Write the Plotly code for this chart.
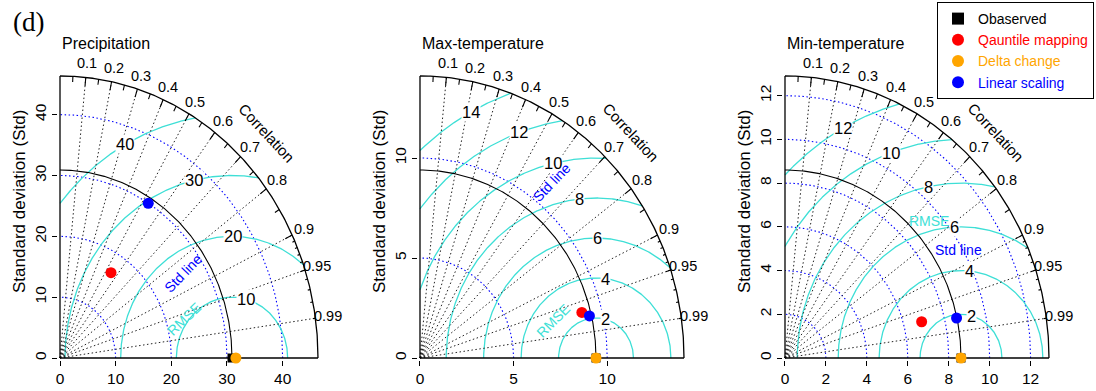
import numpy as np
import plotly.graph_objects as go

# ---------------- data ----------------
panel_titles = ["Precipitation", "Max-temperature", "Min-temperature"]
obs_sd = [30.9, 9.4, 8.6]
qm_sd = [16.75, 8.94, 6.88]
qm_corr = [0.547, 0.967, 0.9705]
dc_sd = [31.6, 9.4, 8.6]
dc_corr = [1.0, 1.0, 1.0]
ls_sd = [29.97, 9.29, 8.58]
ls_corr = [0.529, 0.974, 0.977]
sd_ticks = [[0, 10, 20, 30, 40], [0, 5, 10], [0, 2, 4, 6, 8, 10, 12]]
rmse_levels = [[10, 20, 30, 40], [2, 4, 6, 8, 10, 12, 14], [2, 4, 6, 8, 10, 12]]
corr_lines = [0.1, 0.2, 0.3, 0.4, 0.5, 0.6, 0.7, 0.8, 0.9, 0.95, 0.99]
corr_labels = ["0.1", "0.2", "0.3", "0.4", "0.5", "0.6", "0.7", "0.8", "0.9", "0.95", "0.99"]
big_ticks = [0.1, 0.2, 0.3, 0.4, 0.5, 0.6, 0.7, 0.8, 0.9]
med_ticks = [0.05, 0.15, 0.25, 0.35, 0.45, 0.55, 0.65, 0.75, 0.85, 0.95]
small_ticks = [0.91, 0.92, 0.93, 0.94, 0.95, 0.96, 0.97, 0.98, 0.99]
series_names = ["Obaserved", "Qauntile mapping", "Delta change", "Linear scaling"]
series_colors = ["black", "red", "#FFA500", "blue"]

# ---------------- layout / style ----------------
W, H = 1096, 391
ORIG_X = [60, 420, 785]
ORIG_Y = 358
PW = [258, 264, 264]
PH = 282
XLO, XHI = 0.006, 1.16
YLO, YHI = 0.006, 1.22
FONT = "Arial, Liberation Sans, sans-serif"
TURQ = "#3EDFD6"
# positions of the free text labels (data units of each panel) and rotation
std_text = [(22.2, 13.9, -46), (7.05, 8.8, -46), (8.5, 4.93, 0)]
rmse_text = [(22.3, 6.4, -44), (7.09, 1.87, -45), (7.03, 6.25, 0)]

fig = go.Figure()
annotations = []


def arc(r, t0, t1, n=200):
    t = np.linspace(t0, t1, n)
    return list(r * np.cos(t)), list(r * np.sin(t))


for i in range(3):
    xa = "x" if i == 0 else f"x{i + 1}"
    ya = "y" if i == 0 else f"y{i + 1}"
    r0 = obs_sd[i]
    m = 1.5 * r0

    def add_line(xs, ys, color, width, dash="solid"):
        fig.add_trace(go.Scatter(x=xs, y=ys, mode="lines", xaxis=xa, yaxis=ya,
                                 line=dict(color=color, width=width, dash=dash),
                                 hoverinfo="skip", showlegend=False))

    # std arcs (blue dotted)
    xs, ys = [], []
    for s in sd_ticks[i]:
        if s <= 0:
            continue
        ax_, ay_ = arc(s, 0, np.pi / 2)
        xs += ax_ + [None]
        ys += ay_ + [None]
    add_line(xs, ys, "blue", 1.1, "1.5px,2.5px")

    # RMSE arcs (centred on observed point)
    xs, ys = [], []
    n = len(rmse_levels[i])
    labelpos = np.floor(np.linspace(45, 70, n) + 1e-9).astype(int)
    for k, g in enumerate(rmse_levels[i]):
        c0 = (m * m - r0 * r0 - g * g) / (2 * r0 * g)
        t0 = 0.0 if c0 >= 1 else np.arccos(max(-1.0, c0))
        c1 = -r0 / g
        t1 = np.pi if c1 <= -1 else np.arccos(c1)
        t = np.linspace(t0, t1, 300)
        xs += list(r0 + g * np.cos(t)) + [None]
        ys += list(g * np.sin(t)) + [None]
        ang = (labelpos[k] - 1) * 0.03
        lx, ly = r0 + g * np.cos(ang), g * np.sin(ang)
        if lx > 0:
            annotations.append(dict(x=lx, y=ly, xref=xa, yref=ya, text=str(g),
                                    showarrow=False, bgcolor="white", borderpad=0,
                                    font=dict(size=16.5, color="black", family=FONT)))
    add_line(xs, ys, TURQ, 1.3)

    # correlation rays
    xs, ys = [], []
    for c in corr_lines:
        a = np.arccos(c)
        xs += [0, m * np.cos(a), None]
        ys += [0, m * np.sin(a), None]
    add_line(xs, ys, "#222222", 1.0, "1.5px,2.5px")

    # ticks on outer arc
    xs, ys = [], []
    for lst, f in ((big_ticks, 0.97), (med_ticks, 0.98), (small_ticks, 0.99)):
        for c in lst:
            a = np.arccos(c)
            xs += [m * np.cos(a), f * m * np.cos(a), None]
            ys += [m * np.sin(a), f * m * np.sin(a), None]
    add_line(xs, ys, "black", 1.1)

    # outer arc, observed arc, axes lines
    ox_, oy_ = arc(m, 0, np.pi / 2)
    add_line(ox_, oy_, "black", 1.3)
    bx_, by_ = arc(r0, 0, np.pi / 2)
    add_line(bx_, by_, "black", 1.1)
    add_line([0, m, None, 0, 0], [0, 0, None, 0, m], "black", 1.3)

    # correlation labels
    for c, lab in zip(corr_lines, corr_labels):
        a = np.arccos(c)
        annotations.append(dict(x=1.05 * m * np.cos(a), y=1.05 * m * np.sin(a),
                                xref=xa, yref=ya, text=lab, showarrow=False,
                                font=dict(size=14.5, color="black", family=FONT)))
    annotations.append(dict(x=1.13 * m * np.cos(np.pi / 4), y=1.13 * m * np.sin(np.pi / 4),
                            xref=xa, yref=ya, text="Correlation", showarrow=False,
                            textangle=47, font=dict(size=15, color="black", family=FONT)))
    sx, sy, sa = std_text[i]
    annotations.append(dict(x=sx, y=sy, xref=xa, yref=ya, text="Std line", showarrow=False,
                            textangle=sa, font=dict(size=14, color="blue", family=FONT)))
    rx, ry, ra = rmse_text[i]
    annotations.append(dict(x=rx, y=ry, xref=xa, yref=ya, text="RMSE", showarrow=False,
                            textangle=ra, font=dict(size=14, color=TURQ, family=FONT)))

    # points
    pts = [(r0, 1.0, "square", 9), (qm_sd[i], qm_corr[i], "circle", 11),
           (dc_sd[i], dc_corr[i], "circle", 11), (ls_sd[i], ls_corr[i], "circle", 11)]
    for k, (s, c, sym, sz) in enumerate(pts):
        a = np.arccos(min(c, 1.0))
        fig.add_trace(go.Scatter(
            x=[s * np.cos(a)], y=[s * np.sin(a)], mode="markers", xaxis=xa, yaxis=ya,
            marker=dict(symbol=sym, size=sz, color=series_colors[k], line=dict(width=0)),
            cliponaxis=False, legendgroup=series_names[k], showlegend=(i == 0),
            name=f'<span style="color:{series_colors[k]}">{series_names[k]}</span>'))

    # axes
    ox = ORIG_X[i]
    xdom = [(ox - XLO * PW[i]) / W, (ox + XHI * PW[i]) / W]
    ydom = [(H - (ORIG_Y + YLO * PH)) / H, (H - (ORIG_Y - YHI * PH)) / H]
    common = dict(showgrid=False, zeroline=False, showline=False, ticks="outside",
                  ticklen=5, tickwidth=1, tickcolor="black",
                  tickfont=dict(size=15.5, color="black", family=FONT))
    fig.update_layout(**{
        ("xaxis" if i == 0 else f"xaxis{i + 1}"): dict(
            domain=xdom, range=[-XLO * m, XHI * m], tickvals=sd_ticks[i],
            anchor=ya, **common),
        ("yaxis" if i == 0 else f"yaxis{i + 1}"): dict(
            domain=ydom, range=[-YLO * m, YHI * m], tickvals=sd_ticks[i],
            tickangle=-90, anchor=xa, **common),
    })

    # titles
    annotations.append(dict(x=ox / W, y=1 - 43 / H, xref="paper", yref="paper",
                            text=panel_titles[i], showarrow=False, xanchor="left",
                            yanchor="middle",
                            font=dict(size=16, color="black", family=FONT)))
    annotations.append(dict(x=(ox - 41) / W, y=1 - 202 / H, xref="paper", yref="paper",
                            text="Standard deviation (Std)", showarrow=False, textangle=-90,
                            xanchor="center", yanchor="middle",
                            font=dict(size=17, color="black", family=FONT)))

annotations.append(dict(x=11 / W, y=1 - 22 / H, xref="paper", yref="paper", text="(d)",
                        showarrow=False, xanchor="left", yanchor="middle",
                        font=dict(size=27, color="black",
                                  family="Times New Roman, Liberation Serif, serif")))

fig.update_layout(
    width=W, height=H, margin=dict(l=0, r=0, t=0, b=0, autoexpand=False),
    paper_bgcolor="white", plot_bgcolor="white",
    annotations=annotations,
    legend=dict(x=1094 / W, y=1 - 2 / H, xanchor="right", yanchor="top",
                bordercolor="black", borderwidth=1, bgcolor="white",
                font=dict(size=14, family=FONT, color="black"),
                tracegroupgap=0, itemsizing="constant"),
    font=dict(family=FONT),
)

fig.write_html("out.html")
